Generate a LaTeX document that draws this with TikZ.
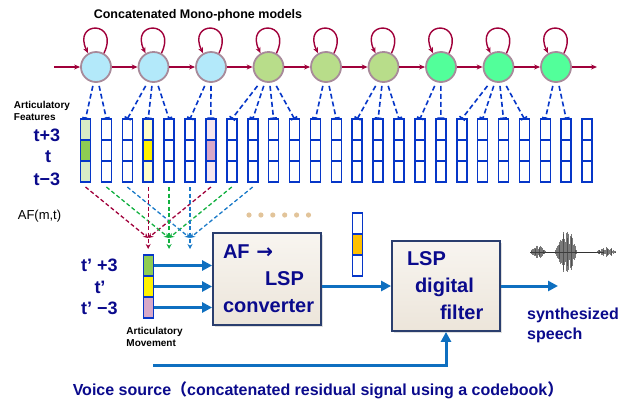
\documentclass[tikz,border=0pt]{standalone}
\usepackage{fontspec}
\setmainfont{Liberation Sans}
\newfontfamily\cjkfont{Noto Sans CJK JP}
\newfontfamily\symfont{DejaVu Sans}
\usetikzlibrary{
  arrows.meta,
  positioning,
  calc,
  backgrounds,
  shadows
}
\definecolor{spWine}{HTML}{A0003A}
\definecolor{spMauve}{HTML}{A88A9A}
\definecolor{spSky}{HTML}{B3E9FA}
\definecolor{spOlive}{HTML}{B8DD8A}
\definecolor{spMint}{HTML}{52FF9A}
\definecolor{spBlue}{HTML}{0636C8}
\definecolor{spNavy}{HTML}{0A0A8C}
\definecolor{spFlow}{HTML}{0E6FC0}
\definecolor{spGreen}{HTML}{12B040}
\definecolor{spAzure}{HTML}{1A7AC8}
\definecolor{spSlate}{HTML}{2A3E6E}
\definecolor{spBoxTop}{HTML}{F8F5F0}
\definecolor{spBoxBot}{HTML}{ECE5DA}
\definecolor{spTan}{HTML}{E2C49A}
\definecolor{spLeaf}{HTML}{8ECC52}
\definecolor{spLeafL}{HTML}{D8ECC6}
\definecolor{spLemon}{HTML}{FFF200}
\definecolor{spLemonL}{HTML}{FFFFC8}
\definecolor{spRose}{HTML}{D8A8C8}
\definecolor{spRoseL}{HTML}{F4E6EE}
\definecolor{spAmber}{HTML}{FFC000}
\tikzset{
  hmmstate/.style={circle, draw=spMauve, line width=1.8pt, minimum size=30pt, inner sep=0pt},
  hmmarc/.style={-{Stealth[length=6pt, width=5pt]}, line width=1.4pt, spWine},
  afcell/.style={draw=spBlue, line width=1.6pt, minimum width=10pt, minimum height=21pt, inner sep=0pt, outer sep=0pt},
  stlink/.style={-{Bar[width=7pt]}, line width=1.6pt, spBlue, dash pattern=on 5pt off 3pt},
  mixarrow/.style={-{Stealth[length=5pt, width=5pt]}, line width=1.3pt, dash pattern=on 4pt off 2.5pt},
  flow/.style={-{Triangle[length=10pt, width=10pt]}, line width=3pt, spFlow},
  procbox/.style={
    draw=spSlate, line width=1.8pt, top color=spBoxTop, bottom color=spBoxBot,
    drop shadow={opacity=0.25, shadow xshift=2pt, shadow yshift=-2pt},
    align=left, inner sep=10pt, text width=88pt,
    font=\fontsize{20}{27}\selectfont\bfseries, text=spNavy
  },
  tlabel/.style={font=\fontsize{18}{20}\selectfont\bfseries, text=spNavy, inner sep=0pt},
  smalltag/.style={font=\fontsize{10}{12.5}\selectfont\bfseries, align=left, inner sep=0pt}
}

\begin{document}
\begin{tikzpicture}[x=1pt, y=-1pt]
  \useasboundingbox (0,0) rectangle (621,405);

  % concatenated mono-phone HMM states
  \node[font=\fontsize{12.5}{15}\selectfont\bfseries] (title) at (198,15) {Concatenated Mono-phone models};
  \foreach \j/\c in {1/spSky,2/spSky,3/spSky,4/spOlive,5/spOlive,6/spOlive,7/spMint,8/spMint,9/spMint}
    \node[hmmstate, fill=\c] (s\j) at ({96+(\j-1)*57.5},67) {};
  \foreach \j in {1,...,9}
    \draw[hmmarc] (s\j.60) .. controls +(16,-33) and +(-16,-33) .. (s\j.120);
  \coordinate (hin) at (54,67);
  \coordinate (hout) at (597,67);
  \draw[hmmarc] (hin) -- (s1);
  \foreach \j [evaluate=\j as \k using int(\j+1)] in {1,...,8}
    \draw[hmmarc] (s\j) -- (s\k);
  \draw[hmmarc] (s9) -- (hout);

  % articulatory feature vectors
  \foreach \k in {1,...,25}
    \foreach \r in {1,2,3}
      \node[afcell] (c\k-\r) at ({85.5+(\k-1)*20.9},{129.5+(\r-1)*21}) {};
  \begin{scope}[on background layer]
    \foreach \k/\lt/\dk in {1/spLeafL/spLeaf,4/spLemonL/spLemon,7/spRoseL/spRose} {
      \fill[\lt] (c\k-1.north west) rectangle (c\k-1.south east);
      \fill[\dk] (c\k-2.north west) rectangle (c\k-2.south east);
      \fill[\lt] (c\k-3.north west) rectangle (c\k-3.south east);
    }
  \end{scope}
  \foreach \j/\k in {1/1,1/2,2/3,2/4,2/5,3/6,3/7,4/8,4/9,4/10,4/11,5/12,5/13,6/14,6/15,6/16,7/17,7/18,8/19,8/20,8/21,8/22,9/23,9/24} {
    \pgfmathsetmacro\dx{0.3*(85.5+(\k-1)*20.9-96-(\j-1)*57.5)}
    \draw[stlink] ([xshift=\dx pt, yshift=-3pt]s\j.south) -- (c\k-1.north);
  }
  \node[smalltag] (aflabel) at (42,111) {Articulatory\\Features};
  \node[tlabel] (tp) at (47,135) {t+3};
  \node[tlabel] (t0) at (48,157) {t};
  \node[tlabel] (tm) at (47,179) {t−3};
  \node[font=\fontsize{13}{15}\selectfont, inner sep=0pt] (afmt) at (39.5,216) {AF(m,t)};
  \foreach \i in {0,...,5}
    \fill[spTan] ({249+\i*11.9},215) circle (2.6);

  % frame selection
  \coordinate (m1) at (148.2,238);
  \coordinate (m2) at (169.1,238);
  \coordinate (m3) at (190.0,238);
  \foreach \a/\m/\col in {1/1/spWine,7/1/spWine,2/2/spGreen,8/2/spGreen,3/3/spAzure,9/3/spAzure}
    \draw[mixarrow, \col] ([yshift=-5pt]c\a-3.south) -- (m\m);
  \foreach \a/\col in {4/spWine,5/spGreen,6/spAzure}
    \draw[mixarrow, \col] ([yshift=-5pt]c\a-3.south) -- ([yshift=-67pt]c\a-3.south);

  % articulatory movement
  \node[afcell, fill=spLeaf] (am1) at (148.5,265.5) {};
  \node[afcell, fill=spLemon] (am2) at (148.5,286.5) {};
  \node[afcell, fill=spRose] (am3) at (148.5,307.5) {};
  \node[tlabel] (tqp) at (99.5,265) {t’ +3};
  \node[tlabel] (tq0) at (100,287) {t’};
  \node[tlabel] (tqm) at (99.5,308) {t’ −3};
  \node[smalltag, below=9pt of am3, xshift=6pt] (amlabel) {Articulatory\\Movement};

  % converter and filter
  \node[procbox, minimum width=108pt, minimum height=92pt] (conv) at (267,279)
    {AF {\symfont\bfseries →}\\\hspace*{42pt}LSP\\converter};
  \node[procbox, minimum width=108pt, minimum height=90pt] (filt) at (446,286)
    {\hspace*{5pt}LSP\\\hspace*{13pt}digital\\\hspace*{38pt}filter};
  \foreach \r in {1,2,3}
    \draw[flow] (am\r.east) -- (am\r.east -| conv.west);
  \node[afcell] (lv1) at (357.5,223.5) {};
  \node[afcell, fill=spAmber] (lv2) at (357.5,244.5) {};
  \node[afcell] (lv3) at (357.5,265.5) {};
  \draw[flow] (conv.east |- filt.west) -- (filt.west);
  \coordinate (sout) at (558,287);
  \draw[flow] (filt.east) -- (filt.east -| sout);
  \coordinate (vsrc) at (153,365);
  \draw[flow] (vsrc) -| (filt.south);

  % synthesized waveform
  \draw[black!80, line width=0.6pt] (530,252) -- (604,252);
  \pgfmathsetseed{3}
  \foreach \x in {530,530.8,...,618} {
    \pgfmathsetmacro\amp{7*max(0,1-((\x-538)/8)^2) + 22*max(0,1-((\x-566)/11)^2) + 5*max(0,1-((\x-606)/10)^2)}
    \pgfmathsetmacro\rr{0.35+0.65*rnd}
    \draw[black!75, line width=0.6pt, opacity=0.7] (\x,{252-\amp*\rr}) -- (\x,{252+\amp*\rr});
  }
  \node[font=\fontsize{16}{20}\selectfont\bfseries, text=spNavy, align=left, anchor=west, inner sep=0pt] (synth) at (527,325) {synthesized\\speech};

  \node[font=\fontsize{16}{18}\selectfont\bfseries, text=spNavy, inner sep=0pt] (vlabel) at (318,390)
    {Voice source{\cjkfont\bfseries （}concatenated residual signal using a codebook{\cjkfont\bfseries ）}};
\end{tikzpicture}
\end{document}
